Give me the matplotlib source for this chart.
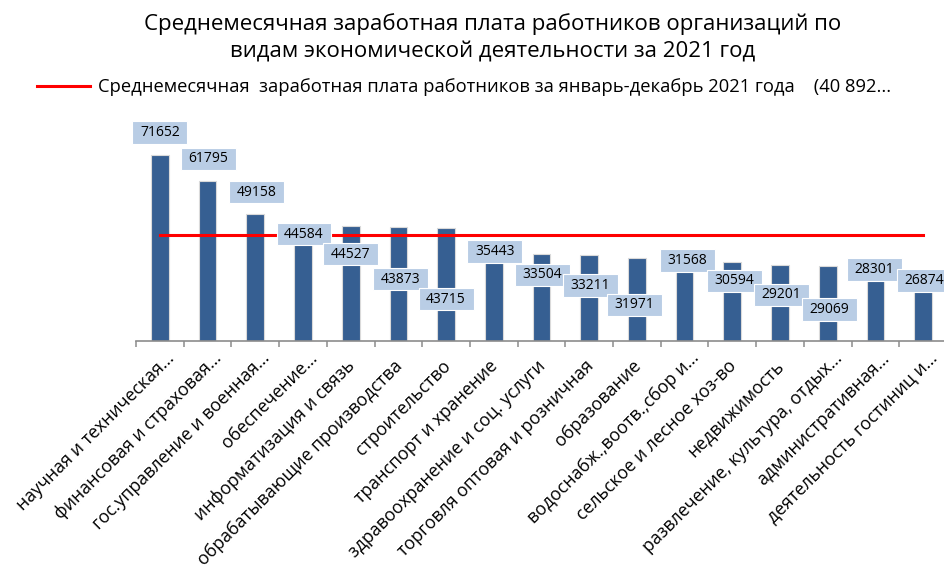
import matplotlib
matplotlib.use("Agg")
import matplotlib.pyplot as plt
import numpy as np
from matplotlib.path import Path

plt.rcParams['font.family'] = ['Open Sans', 'DejaVu Sans']

# ---------------- data ----------------
categories = [
    "научная и техническая...",
    "финансовая и страховая...",
    "гос.управление и военная...",
    "обеспечение...",
    "информатизация и связь",
    "обрабатывающие производства",
    "строительство",
    "транспорт и хранение",
    "здравоохранение и соц. услуги",
    "торговля оптовая и розничная",
    "образование",
    "водоснабж.,воотв.,сбор и...",
    "сельское и лесное хоз-во",
    "недвижимость",
    "развлечение, культура, отдых...",
    "административная...",
    "деятельность гостиниц и...",
]
salaries = [71652, 61795, 49158, 44584, 44527, 43873, 43715, 35443, 33504,
            33211, 31971, 31568, 30594, 29201, 29069, 28301, 26874]
average_salary = 40892

title = ("Среднемесячная заработная плата работников организаций по\n"
         "видам экономической деятельности за 2021 год")
legend_label = ("Среднемесячная  заработная плата работников за январь-декабрь "
                "2021 года    (40 892...")

# layout of data labels (pixel offsets of label centre from bar top)
label_dx = [0, 1, 1, 1, 0, 2.5, 0, 1, 1, 1, -2.5, 3, 2, 1.5, 1.5, -1, 1]
label_dy = [23, 22, 21.6, -8.7, -28.5, -51.8, -71.4, -2.2, -20.7, -30.4,
            -46.7, -1.2, -19.2, -29.6, -43.8, -1.8, -9.1]

# ---------------- styling ----------------
BAR = "#365F92"
LBL = "#B9CDE5"
AXC = "#8C8C8C"

W, H = 944, 568
fig = plt.figure(figsize=(W / 100, H / 100), dpi=100)
fig.patch.set_facecolor("white")

n = len(categories)
ymax = 80000
ax_left, ax_right = 136, 947
ax_bottom_px = 341
ax_h_px = ymax * 0.00259
ax = fig.add_axes([ax_left / W, (H - ax_bottom_px) / H,
                   (ax_right - ax_left) / W, ax_h_px / H])
x = np.arange(n)
ax.bar(x, salaries, width=0.37, color=BAR, edgecolor="#DADADA",
       linewidth=0.8, zorder=2)
line, = ax.plot([x[0], x[-1]], [average_salary, average_salary],
                color="#FF0000", lw=2.2, zorder=3, label=legend_label)

ax.set_xlim(-0.5, n - 0.5)
ax.set_ylim(0, ymax)
for s in ["top", "right", "left"]:
    ax.spines[s].set_visible(False)
ax.spines["bottom"].set_color(AXC)
ax.spines["bottom"].set_linewidth(1.2)
ax.set_yticks([])
ax.set_xticks(np.arange(-0.5, n, 1))
ax.set_xticklabels([])
ax.tick_params(axis="x", length=4, width=1.1, color=AXC, direction="out")
ax.patch.set_alpha(0)


def label_box(x0, y0, width, height, mutation_size):
    padx = 0.55 * mutation_size
    pady = 0.27 * mutation_size
    x0, y0 = x0 - padx, y0 - pady
    x1, y1 = x0 + width + 2 * padx, y0 + height + 2 * pady
    return Path([(x0, y0), (x1, y0), (x1, y1), (x0, y1), (x0, y0)],
                closed=True)


for i, v in enumerate(salaries):
    ax.annotate(str(v), xy=(i, v), xytext=(label_dx[i], label_dy[i]),
                textcoords="offset pixels", ha="center", va="center",
                fontsize=10, color="black", zorder=5, annotation_clip=False,
                bbox=dict(boxstyle=label_box, fc=LBL, ec="white", lw=0.8))

# category labels
for i, c in enumerate(categories):
    if c.endswith("..."):
        off = (15, -18)
    else:
        off = (5, -26)
    ax.annotate(c, xy=(i, 0), xycoords=("data", "axes fraction"),
                xytext=off, textcoords="offset pixels", rotation=45,
                rotation_mode="anchor", ha="right", va="baseline",
                fontsize=12.8, color="black", annotation_clip=False)

fig.text(493 / W, 1 - 38 / H, title, ha="center", va="center",
         fontsize=16, linespacing=1.38)

fig.legend(handles=[line], loc="center left",
           bbox_to_anchor=(37 / W, 1 - 87 / H), frameon=False,
           fontsize=13.2, handlelength=2.9, handletextpad=0.4,
           borderpad=0, borderaxespad=0)

fig.savefig("out.png", dpi=100)
